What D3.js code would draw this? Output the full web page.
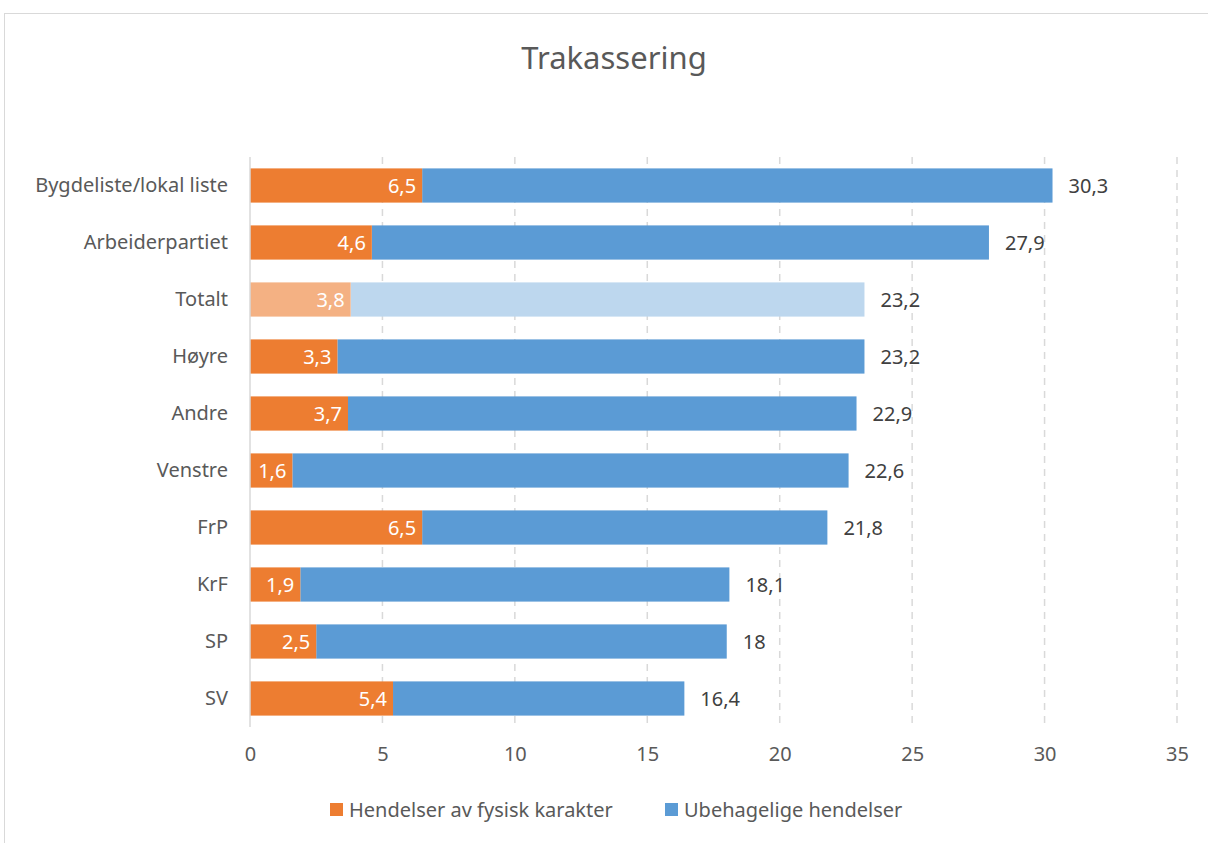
<!DOCTYPE html>
<html lang="no">
<head>
<meta charset="utf-8">
<title>Trakassering</title>
<script src="https://d3js.org/d3.v7.min.js"></script>
<style>
  body { margin: 0; background: #fff; }
  text { font-family: "Noto Sans", "Open Sans", sans-serif; }
</style>
</head>
<body>
<div id="chart"></div>
<script>
// data
var categories = ["Bygdeliste/lokal liste", "Arbeiderpartiet", "Totalt", "Høyre", "Andre", "Venstre", "FrP", "KrF", "SP", "SV"];
var fysisk = [6.5, 4.6, 3.8, 3.3, 3.7, 1.6, 6.5, 1.9, 2.5, 5.4];
var ubehagelig = [30.3, 27.9, 23.2, 23.2, 22.9, 22.6, 21.8, 18.1, 18, 16.4];
var xTicks = [0, 5, 10, 15, 20, 25, 30, 35];
var seriesNames = ["Hendelser av fysisk karakter", "Ubehagelige hendelser"];

var W = 1208, H = 843;
var plotLeft = 250, plotRight = 1177, plotTop = 157, plotBottom = 727;

var orange = "#ED7D31", blue = "#5B9BD5";
var orangeLight = "#F4B183", blueLight = "#BDD7EE";
var textColor = "#595959";
var fs = 20;

var svg = d3.select("#chart").append("svg")
  .attr("width", W)
  .attr("height", H);

// chart frame
svg.append("rect")
  .attr("x", 4.5).attr("y", 13.5)
  .attr("width", W + 20).attr("height", H + 20)
  .attr("fill", "#fff")
  .attr("stroke", "#d9d9d9");

var x = d3.scaleLinear().domain([0, 35]).range([plotLeft, plotRight]);
var y = d3.scaleBand().domain(categories).range([plotTop, plotBottom]).paddingInner(0.4).paddingOuter(0.2);

// title
svg.append("text")
  .attr("x", 614).attr("y", 69)
  .attr("text-anchor", "middle")
  .attr("font-size", 31)
  .attr("fill", textColor)
  .text("Trakassering");

// gridlines
svg.selectAll(".grid")
  .data(xTicks.filter(function(d) { return d > 0; }))
  .enter().append("line")
  .attr("x1", function(d) { return x(d); })
  .attr("x2", function(d) { return x(d); })
  .attr("y1", plotTop).attr("y2", plotBottom)
  .attr("stroke", "#d9d9d9")
  .attr("stroke-width", 1.5)
  .attr("stroke-dasharray", "7,6");

// x axis labels
var xAxis = d3.axisBottom(x).tickValues(xTicks).tickSize(0).tickPadding(20);
var gx = svg.append("g").attr("transform", "translate(0," + plotBottom + ")").call(xAxis);
gx.select(".domain").remove();
gx.selectAll("text")
  .attr("font-size", fs)
  .attr("fill", textColor)
  .style("font-family", "'Noto Sans', sans-serif");

// y axis labels
var yAxis = d3.axisLeft(y).tickSize(0).tickPadding(22);
var gy = svg.append("g").attr("transform", "translate(" + plotLeft + ",0)").call(yAxis);
gy.select(".domain").remove();
gy.selectAll("text")
  .attr("font-size", fs)
  .attr("fill", textColor)
  .style("font-family", "'Noto Sans', sans-serif");

// bars
var rows = categories.map(function(c, i) {
  return { cat: c, f: fysisk[i], u: ubehagelig[i] };
});

var g = svg.append("g");

g.selectAll(".blue")
  .data(rows)
  .enter().append("rect")
  .attr("x", function(d) { return x(d.f); })
  .attr("y", function(d) { return y(d.cat); })
  .attr("width", function(d) { return x(d.u) - x(d.f); })
  .attr("height", y.bandwidth())
  .attr("fill", function(d) { return d.cat == "Totalt" ? blueLight : blue; });

g.selectAll(".orange")
  .data(rows)
  .enter().append("rect")
  .attr("x", x(0))
  .attr("y", function(d) { return y(d.cat); })
  .attr("width", function(d) { return x(d.f) - x(0); })
  .attr("height", y.bandwidth())
  .attr("fill", function(d) { return d.cat == "Totalt" ? orangeLight : orange; });

var fmt = function(v) { return String(v).replace(".", ","); };

// labels inside orange
g.selectAll(".lblF")
  .data(rows)
  .enter().append("text")
  .attr("x", function(d) { return x(d.f) - 6; })
  .attr("y", function(d) { return y(d.cat) + y.bandwidth() / 2; })
  .attr("dy", "0.36em")
  .attr("text-anchor", "end")
  .attr("font-size", fs)
  .attr("fill", "#fff")
  .text(function(d) { return fmt(d.f); });

// total labels
g.selectAll(".lblU")
  .data(rows)
  .enter().append("text")
  .attr("x", function(d) { return x(d.u) + 16; })
  .attr("y", function(d) { return y(d.cat) + y.bandwidth() / 2; })
  .attr("dy", "0.36em")
  .attr("font-size", fs)
  .attr("fill", "#404040")
  .text(function(d) { return fmt(d.u); });

// y axis line
svg.append("line")
  .attr("x1", plotLeft).attr("x2", plotLeft)
  .attr("y1", plotTop).attr("y2", plotBottom)
  .attr("stroke", "#d9d9d9")
  .attr("stroke-width", 1.5);

// legend
var legend = svg.append("g");
var legendX = [330, 665];
seriesNames.forEach(function(name, i) {
  legend.append("rect")
    .attr("x", legendX[i]).attr("y", 803)
    .attr("width", 13).attr("height", 13)
    .attr("fill", i == 0 ? orange : blue);
  legend.append("text")
    .attr("x", legendX[i] + 19).attr("y", 810)
    .attr("dy", "0.36em")
    .attr("font-size", fs)
    .attr("fill", textColor)
    .text(name);
});
</script>
</body>
</html>
